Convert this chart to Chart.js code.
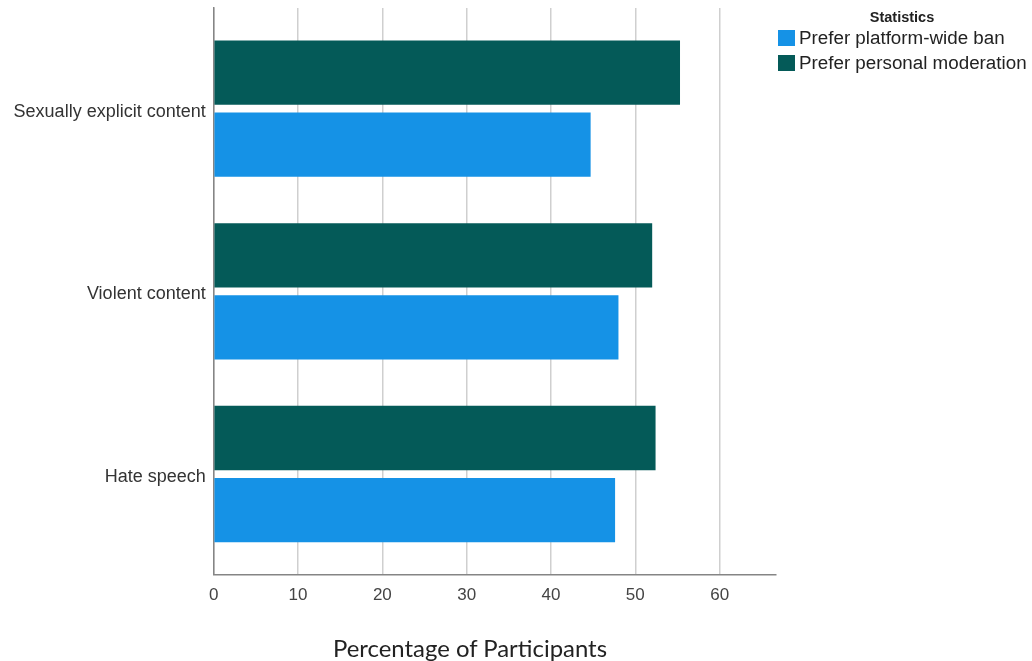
<!DOCTYPE html>
<html>
<head>
<meta charset="utf-8">
<title>Statistics</title>
<script src="https://cdn.jsdelivr.net/npm/chart.js@4.4.0/dist/chart.umd.min.js"></script>
<style>
    body { margin: 0; background: #fff; }
    #wrap { position: relative; width: 1032px; height: 661px; overflow: hidden; }
    #legend { position: absolute; left: 778px; top: 8px; width: 254px;
              font-family: "Liberation Sans", Arial, sans-serif; color: #222; }
    #legend .titel { position: absolute; left: 64px; top: 1px; width: 120px; text-align: center;
                     font-weight: bold; font-size: 14.5px; white-space: nowrap; }
    #legend .item { position: absolute; left: 0; height: 20px; font-size: 18.8px; white-space: nowrap;
                    line-height: 20px; }
    #legend .box { display: inline-block; width: 17px; height: 16px; vertical-align: -2px; margin-right: 4px; }
    #xTitel { position: absolute; left: 0; width: 940px; top: 633px; text-align: center;
              font-family: Lato, "Open Sans", sans-serif; font-size: 23.9px; color: #222; }
</style>
</head>
<body>
<div id="wrap">
    <canvas id="grafiek" width="1032" height="661"></canvas>
    <div id="legend"></div>
    <div id="xTitel">Percentage of Participants</div>
</div>
<script>
// ===============================
// Data
// ===============================
const categorieen = ["Sexually explicit content", "Violent content", "Hate speech"];
const persoonlijkeModeratie = [55.3, 52.0, 52.4];   // Prefer personal moderation
const platformVerbod = [44.7, 48.0, 47.6];          // Prefer platform-wide ban
const xTicks = [0, 10, 20, 30, 40, 50, 60];

const reeksen = [
    { naam: "Prefer personal moderation", waarden: persoonlijkeModeratie, kleur: "#045a58" },
    { naam: "Prefer platform-wide ban", waarden: platformVerbod, kleur: "#1592e6" }
];

// ===============================
// Layout (plotvlak 213.7 - 775.3 / 8 - 574.3)
// ===============================
const plotLinks = 213.7;
const plotRechts = 775.3;
const plotBoven = 8;
const plotOnder = 574.3;

// ===============================
// Grafiek
// ===============================
const datasets = reeksen.map(r => ({
    label: r.naam,
    data: r.waarden.map((v, i) => ({ x: v, y: i })),
    backgroundColor: r.kleur,
    borderWidth: 0,
    categoryPercentage: 0.789,
    barPercentage: 0.892
}));

const chart = new Chart(document.getElementById("grafiek").getContext("2d"), {
    type: "bar",
    data: { datasets: datasets },
    options: {
        indexAxis: "y",
        responsive: false,
        animation: false,
        devicePixelRatio: 1,
        layout: { padding: { left: 0, top: plotBoven, right: 1032 - plotRechts, bottom: 0 } },
        plugins: {
            legend: { display: false },
            tooltip: { enabled: false }
        },
        scales: {
            x: {
                type: "linear",
                position: "bottom",
                bounds: "data",
                min: 0,
                max: 66.6,
                afterBuildTicks: (as) => { as.ticks = xTicks.map(v => ({ value: v })); },
                afterFit: (as) => { as.height = 661 - plotOnder; },
                ticks: {
                    font: { family: "'Liberation Sans', Arial, sans-serif", size: 17 },
                    color: "#444",
                    padding: 11
                },
                grid: { color: "#cfcfcf", lineWidth: 1.5, drawTicks: false },
                border: { color: "#858585", width: 1.5 }
            },
            y: {
                type: "linear",
                reverse: true,
                offset: false,
                bounds: "data",
                min: -0.5513,
                max: 2.549,
                afterBuildTicks: (as) => { as.ticks = categorieen.map((c, i) => ({ value: i })); },
                afterFit: (as) => {
                    as.width = plotLinks;
                    as.paddingTop = 0;
                    as.paddingBottom = 0;
                },
                ticks: {
                    callback: (v) => categorieen[v] || "",
                    font: { family: "'Liberation Sans', Arial, sans-serif", size: 18 },
                    color: "#333",
                    padding: 8,
                    labelOffset: 3
                },
                grid: { display: false, drawTicks: false, offset: false },
                border: { color: "#858585", width: 1.5 }
            }
        }
    }
});

// ===============================
// Legenda (HTML)
// ===============================
const legend = document.getElementById("legend");
const titel = document.createElement("div");
titel.className = "titel";
titel.innerText = "Statistics";
legend.appendChild(titel);

// legenda toont de reeksen in omgekeerde volgorde
reeksen.slice().reverse().forEach((r, i) => {
    const item = document.createElement("div");
    item.className = "item";
    item.style.top = (20 + i * 25) + "px";
    const box = document.createElement("span");
    box.className = "box";
    box.style.background = r.kleur;
    item.appendChild(box);
    item.appendChild(document.createTextNode(r.naam));
    legend.appendChild(item);
});
</script>
</body>
</html>
